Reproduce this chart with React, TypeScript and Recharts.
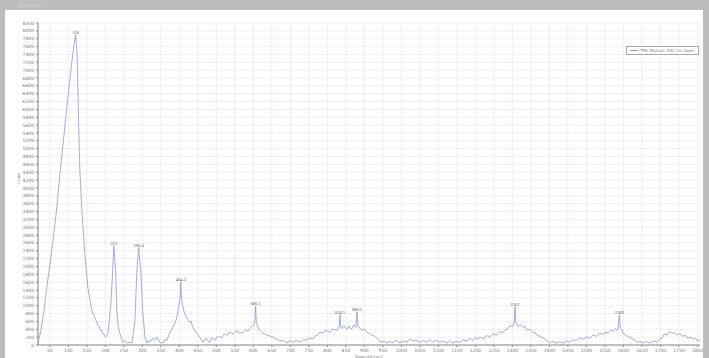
import {
  CartesianGrid,
  ComposedChart,
  Legend,
  Line,
  ReferenceDot,
  XAxis,
  YAxis
} from "recharts";

// Raman shift (cm-1)
const shift = [
  18, 26, 34, 42, 50, 61, 69, 77, 88, 99, 109, 116, 120, 124, 128, 131, 136, 145, 153, 160,
  164, 172, 180, 186, 193, 201, 207, 215, 220, 223, 228, 231, 235, 239, 247, 252, 258, 266, 272, 280,
  285, 290, 296, 301, 307, 312, 316, 320, 328, 333, 339, 347, 355, 360, 366, 374, 382, 388, 393, 399,
  402, 404, 406, 412, 416, 420, 428, 432, 436, 441, 447, 455, 464, 469, 474, 478, 482, 487, 491, 496,
  501, 509, 515, 521, 528, 537, 545, 553, 564, 572, 580, 586, 591, 599, 604, 606, 608, 612, 617, 623,
  630, 637, 645, 653, 663, 672, 680, 691, 699, 707, 716, 726, 736, 745, 753, 761, 768, 774, 781, 788,
  795, 801, 807, 814, 820, 826, 832, 834, 836, 839, 845, 850, 853, 858, 862, 866, 872, 877, 880, 883,
  888, 893, 900, 907, 913, 920, 927, 934, 940, 947, 954, 961, 969, 977, 985, 996, 1005, 1015, 1023, 1031,
  1040, 1050, 1060, 1069, 1077, 1085, 1095, 1104, 1113, 1123, 1131, 1139, 1148, 1158, 1168, 1177, 1185, 1193, 1200, 1207,
  1214, 1220, 1230, 1239, 1248, 1258, 1266, 1274, 1281, 1288, 1295, 1301, 1305, 1307, 1309, 1315, 1321, 1328, 1334, 1340,
  1347, 1354, 1361, 1367, 1374, 1381, 1388, 1394, 1401, 1410, 1420, 1428, 1437, 1446, 1455, 1464, 1474, 1482, 1491, 1500,
  1509, 1518, 1528, 1537, 1545, 1552, 1558, 1565, 1572, 1579, 1585, 1589, 1592, 1596, 1599, 1606, 1612, 1619, 1626, 1632,
  1639, 1646, 1653, 1662, 1672, 1681, 1691, 1698, 1704, 1710, 1718, 1724, 1731, 1738, 1745, 1752, 1761, 1768, 1774, 1781,
  1788, 1795, 1801, 1806
];

// counts for each shift above
const counts = [
  50, 370, 870, 1490, 2030, 2850, 3520, 4330, 5330, 6320, 7180, 7700, 7900, 7300, 5570, 4460, 3520, 2280, 1440, 1050,
  870, 690, 500, 420, 300, 200, 300, 1040, 1930, 2530, 1860, 870, 450, 300, 70, 110, 50, 70, 50, 620,
  1860, 2480, 1860, 870, 200, 50, 120, 70, 170, 120, 200, 70, 50, 130, 120, 300, 450, 560, 690, 1040,
  1190, 1610, 1150, 870, 760, 690, 570, 610, 450, 380, 300, 200, 70, 150, 170, 90, 70, 180, 170, 120,
  200, 220, 170, 280, 250, 330, 270, 360, 300, 320, 390, 350, 420, 500, 560, 990, 600, 450, 380, 320,
  280, 250, 230, 200, 150, 100, 120, 50, 110, 70, 120, 70, 140, 120, 180, 150, 240, 250, 330, 300,
  380, 340, 320, 410, 390, 370, 470, 770, 460, 420, 500, 430, 400, 480, 410, 420, 510, 450, 840, 470,
  430, 370, 400, 320, 300, 250, 230, 170, 110, 70, 100, 50, 90, 50, 120, 50, 100, 70, 160, 100,
  130, 70, 110, 70, 140, 70, 120, 70, 100, 50, 110, 50, 90, 70, 130, 100, 170, 120, 190, 150,
  210, 150, 240, 200, 290, 250, 340, 320, 390, 420, 500, 470, 560, 970, 580, 470, 520, 450, 470, 380,
  400, 330, 300, 260, 220, 190, 150, 100, 50, 90, 50, 80, 50, 100, 70, 130, 120, 180, 150, 200,
  170, 250, 220, 300, 270, 330, 300, 380, 350, 420, 370, 770, 420, 380, 300, 260, 220, 190, 150, 110,
  70, 90, 50, 90, 50, 100, 70, 150, 170, 280, 250, 340, 300, 310, 250, 290, 220, 250, 170, 200,
  150, 170, 100, 120
];

const peakShift = [120, 223, 290, 404, 606, 834, 880, 1307, 1589];
const peakCounts = [7900, 2530, 2480, 1610, 990, 770, 840, 970, 770];
const peakLabels = ["120", "223", "290.4", "404.2", "606.1", "834.5", "880.2", "1307", "1589"];

const xTicks = Array.from({ length: 36 }, (_, i) => 50 + i * 50);
const yTicks = Array.from({ length: 42 }, (_, i) => i * 200);

const data = shift.map((s, i) => ({ shift: s, counts: counts[i] }));

const tickStyle = { fontSize: 4.5, fill: "#777", fontFamily: "DejaVu Sans" };

function LegendBox() {
  return (
    <div
      style={{
        border: "1px solid #a8a8a8",
        background: "#fff",
        padding: "1px 3px",
        fontSize: 4,
        color: "#777",
        fontFamily: "DejaVu Sans",
        display: "flex",
        alignItems: "center",
        gap: 2,
        whiteSpace: "nowrap"
      }}
    >
      <span style={{ display: "inline-block", width: 8, borderTop: "1px solid #8a9cc4" }} />
      TP6 (Raman, 532 nm laser)
    </div>
  );
}

export default function App() {
  return (
    <div
      style={{
        position: "fixed",
        left: 0,
        top: 0,
        width: 709,
        height: 358,
        background: "#bdbdbd",
        overflow: "hidden"
      }}
    >
      <div
        style={{
          position: "absolute",
          left: 18,
          top: 2,
          fontSize: 5,
          color: "#d8d8d8",
          fontFamily: "DejaVu Sans"
        }}
      >
        Spectrum
      </div>
      <div
        style={{
          position: "absolute",
          left: 5,
          top: 10,
          width: 698,
          height: 348,
          background: "#fff"
        }}
      >
        <ComposedChart
          width={698}
          height={348}
          data={data}
          margin={{ top: 4, right: 3, bottom: 0, left: 0 }}
        >
          <CartesianGrid stroke="#ebebeb" strokeWidth={0.8} />
          <XAxis
            dataKey="shift"
            type="number"
            domain={[18, 1807]}
            ticks={xTicks}
            interval={0}
            tick={tickStyle}
            tickSize={2}
            height={13}
            stroke="#888"
            label={{
              value: "Raman shift (cm-1)",
              position: "insideBottom",
              offset: 0.5,
              fontSize: 3.5,
              fill: "#777"
            }}
          />
          <YAxis
            type="number"
            domain={[0, 8200]}
            ticks={yTicks}
            interval={0}
            tick={tickStyle}
            tickSize={2}
            width={33}
            stroke="#888"
            label={{
              value: "Counts",
              angle: -90,
              position: "insideLeft",
              offset: 14,
              fontSize: 4,
              fill: "#777"
            }}
          />
          <Legend
            verticalAlign="top"
            align="right"
            wrapperStyle={{ top: 36, right: 4, width: "auto" }}
            content={() => <LegendBox />}
          />
          <Line
            type="linear"
            dataKey="counts"
            name="TP6"
            stroke="#8a9cc4"
            strokeWidth={0.8}
            dot={false}
            isAnimationActive={false}
          />
          {peakShift.map((s, i) => (
            <ReferenceDot
              key={s}
              x={s}
              y={peakCounts[i]}
              r={0}
              stroke="none"
              label={{
                value: peakLabels[i],
                position: "top",
                offset: 1,
                fontSize: 4.5,
                fill: "#555"
              }}
            />
          ))}
        </ComposedChart>
      </div>
    </div>
  );
}
